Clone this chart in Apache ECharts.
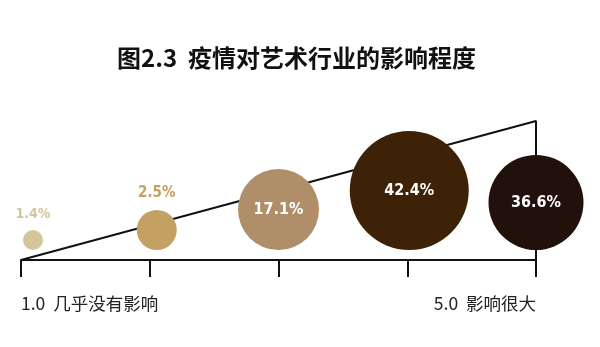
<!DOCTYPE html>
<html>
<head>
<meta charset="utf-8">
<script src="https://cdn.jsdelivr.net/npm/echarts@6/dist/echarts.min.js"></script>
<style>
html,body{margin:0;padding:0;background:#fff;}
#chart{width:600px;height:347px;}
</style>
</head>
<body>
<div id="chart"></div>
<script>
// ---- data ----
const titleText = '图2.3  疫情对艺术行业的影响程度';
const levels = [1, 2, 3, 4, 5];
const shares = [1.4, 2.5, 17.1, 42.4, 36.6];
const tickLabels = ['1.0  几乎没有影响', '', '', '', '5.0  影响很大'];
const wedgeLevels = [1, 5, 5];
const wedgeHeights = [0, 1, 0];

// ---- styles ----
const bubbleColors = ['#d5c59b', '#c3a163', '#b08e6a', '#3e2208', '#22100a'];
const bubbleDiameters = [20, 40, 81, 119, 95];
const bubbleShiftX = [12, 7, 0, 2, 0];
const bubbleGap = 10;
const labelInside = [false, false, true, true, true];
const labelSizes = [14, 15, 16, 16, 16];
const numFont = '"Liberation Sans Narrow","DejaVu Sans Condensed","Roboto Condensed","Arial Narrow","Noto Sans",sans-serif';

const bubbleData = levels.map((lv, i) => ({
  value: [lv, 0, shares[i]],
  symbolSize: bubbleDiameters[i],
  symbolOffset: [bubbleShiftX[i], -(bubbleDiameters[i] / 2 + bubbleGap)],
  itemStyle: { color: bubbleColors[i], opacity: 1 },
  label: {
    show: true,
    position: labelInside[i] ? 'inside' : 'top',
    distance: 9,
    color: labelInside[i] ? '#ffffff' : bubbleColors[i],
    fontSize: labelSizes[i],
    fontWeight: 'bold',
    fontFamily: numFont,
    formatter: shares[i].toFixed(1) + '%'
  }
}));

const chart = echarts.init(document.getElementById('chart'), null, { renderer: 'canvas' });
chart.setOption({
  backgroundColor: '#ffffff',
  animation: false,
  title: {
    text: titleText,
    left: 112,
    top: 39,
    textStyle: {
      fontFamily: '"Noto Sans CJK SC", sans-serif',
      fontSize: 24,
      fontWeight: 'bold',
      color: '#111111',
      lineHeight: 27
    }
  },
  grid: { left: 21, right: 64, top: 121, bottom: 87, containLabel: false },
  xAxis: {
    type: 'value',
    min: 1,
    max: 5,
    interval: 1,
    splitLine: { show: false },
    axisLine: { show: true, lineStyle: { color: '#111111', width: 2 } },
    axisTick: { show: true, length: 17, lineStyle: { color: '#111111', width: 2 } },
    axisLabel: {
      show: true,
      margin: 35,
      fontSize: 17.5,
      color: '#222222',
      fontFamily: '"Noto Sans CJK SC", sans-serif',
      alignMinLabel: 'left',
      alignMaxLabel: 'right',
      formatter: (v) => tickLabels[levels.indexOf(v)] || ''
    }
  },
  yAxis: {
    type: 'value',
    min: 0,
    max: 1,
    show: false,
    splitLine: { show: false }
  },
  series: [
    {
      type: 'line',
      data: wedgeLevels.map((x, i) => [x, wedgeHeights[i]]),
      symbol: 'none',
      silent: true,
      z: 1,
      lineStyle: { color: '#111111', width: 2 }
    },
    {
      type: 'scatter',
      data: bubbleData,
      z: 3
    }
  ]
});
</script>
</body>
</html>
